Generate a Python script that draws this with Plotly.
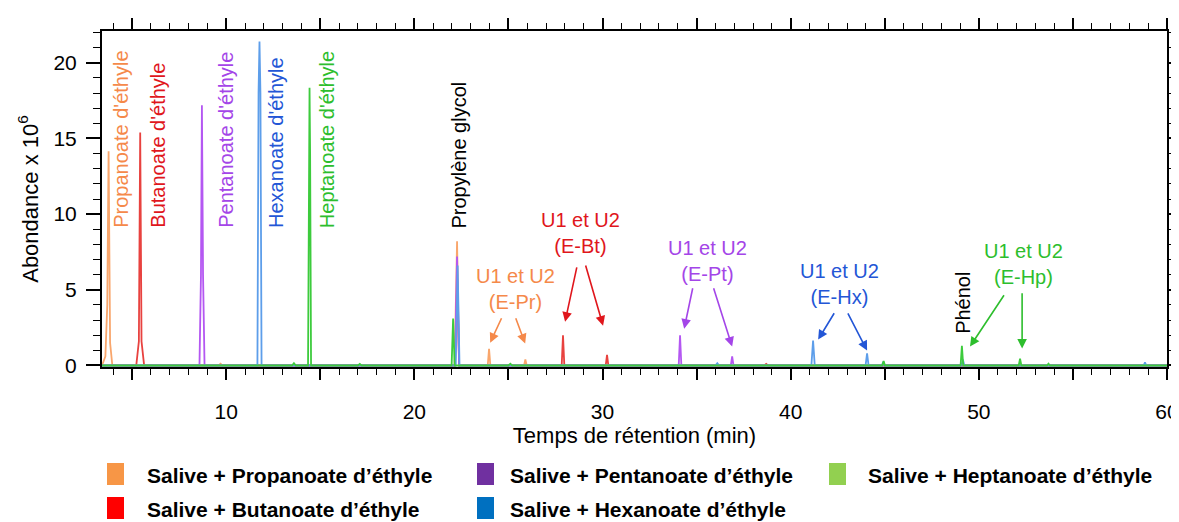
import plotly.graph_objects as go

# retention time (min) / abundance (x 1e6)
prop_t = [3.40, 3.58, 3.68, 3.75, 3.83, 3.95, 9.6, 9.7, 9.8, 22.14, 22.27, 22.38,
          23.90, 23.97, 24.04, 25.83, 25.90, 25.97, 60.0]
prop_y = [0.0, 0.6, 4.0, 14.16, 1.5, 0.0, 0.0, 0.12, 0.0, 0.0, 8.2, 0.0,
          0.0, 1.1, 0.0, 0.0, 0.4, 0.0, 0.0]

but_t = [3.40, 5.22, 5.36, 5.43, 5.50, 5.64, 22.16, 22.28, 22.38, 27.83, 27.90, 27.97,
         30.17, 30.24, 30.31, 38.6, 38.7, 38.8, 60.0]
but_y = [0.0, 0.0, 1.6, 15.4, 1.6, 0.0, 0.0, 5.7, 0.0, 0.0, 2.0, 0.0,
         0.0, 0.7, 0.0, 0.0, 0.1, 0.0, 0.0]

pent_t = [3.40, 8.58, 8.66, 8.71, 8.77, 8.85, 22.16, 22.27, 22.38, 34.05, 34.12, 34.19,
          36.82, 36.89, 36.96, 60.0]
pent_y = [0.0, 0.0, 6.0, 17.2, 6.0, 0.0, 0.0, 7.2, 0.0, 0.0, 2.0, 0.0,
          0.0, 0.6, 0.0, 0.0]

hex_t = [3.40, 11.66, 11.72, 11.77, 11.82, 11.88, 22.20, 22.30, 22.40, 36.0, 36.1, 36.2,
         41.10, 41.19, 41.28, 43.98, 44.06, 44.14, 44.85, 44.92, 44.99,
         49.07, 49.15, 49.23, 58.76, 58.83, 58.90, 60.0]
hex_y = [0.0, 0.0, 18.0, 21.4, 18.0, 0.0, 0.0, 6.6, 0.0, 0.0, 0.15, 0.0,
         0.0, 1.65, 0.0, 0.0, 0.8, 0.0, 0.0, 0.25, 0.0,
         0.0, 0.4, 0.0, 0.0, 0.2, 0.0, 0.0]

hept_t = [3.40, 13.5, 13.6, 13.7, 14.35, 14.40, 14.43, 14.46, 14.51, 17.0, 17.1, 17.2,
          21.98, 22.06, 22.14, 25.0, 25.1, 25.2, 44.87, 44.94, 45.01,
          49.03, 49.10, 49.17, 52.12, 52.19, 52.26, 53.62, 53.70, 53.78, 60.0]
hept_y = [0.0, 0.0, 0.15, 0.0, 0.0, 14.0, 18.35, 14.0, 0.0, 0.0, 0.1, 0.0,
          0.0, 3.1, 0.0, 0.0, 0.12, 0.0, 0.0, 0.3, 0.0,
          0.0, 1.3, 0.0, 0.0, 0.45, 0.0, 0.0, 0.12, 0.0, 0.0]

series_t = [prop_t, but_t, pent_t, hex_t, hept_t]
series_y = [prop_y, but_y, pent_y, hex_y, hept_y]
line_colors = ["#F9A66C", "#E8423F", "#B457F2", "#5D9EEA", "#3DCB3D"]
text_colors = ["#F5894A", "#E0161C", "#A445E8", "#2356D6", "#2DBE2D"]

peak_names = ["Propanoate d'éthyle", "Butanoate d'éthyle", "Pentanoate d'éthyle",
              "Hexanoate d'éthyle", "Heptanoate d'éthyle"]
peak_label_x = [4.37, 6.39, 9.95, 12.68, 15.34]
peak_label_y = [14.93, 14.54, 14.93, 14.74, 14.93]

u_labels = ["U1 et U2<br>(E-Pr)", "U1 et U2<br>(E-Bt)", "U1 et U2<br>(E-Pt)",
            "U1 et U2<br>(E-Hx)", "U1 et U2<br>(E-Hp)"]
u_label_x = [25.36, 28.81, 35.56, 42.62, 52.35]
u_label_y = [5.03, 8.78, 6.88, 5.36, 6.68]
# arrow tail (ax, ay) -> head (x, y), two per unknown pair
arrow_tail_x = [[24.67, 25.36], [28.65, 29.08], [34.81, 35.88], [42.36, 43.0], [51.39, 52.3]]
arrow_tail_y = [[3.22, 3.22], [6.58, 6.71], [5.2, 5.2], [3.55, 3.55], [4.74, 4.87]]
arrow_head_x = [[24.03, 25.89], [28.01, 30.03], [34.34, 36.89], [41.46, 44.06], [49.53, 52.3]]
arrow_head_y = [[1.51, 1.45], [2.89, 2.63], [2.43, 1.25], [1.71, 0.99], [1.25, 1.12]]

legend_names = ["Salive + Propanoate d’éthyle", "Salive + Butanoate d’éthyle",
                "Salive + Pentanoate d’éthyle", "Salive + Hexanoate d’éthyle",
                "Salive + Heptanoate d’éthyle"]
legend_colors = ["#F79646", "#FF0000", "#7030A0", "#0070C0", "#92D050"]
legend_col = [0, 0, 1, 1, 2]
legend_row = [0, 1, 0, 1, 0]

# page body has an 8px margin, so the figure is drawn 8px in from the corner
OFF = 8
W, H = 1179 - OFF, 522 - OFF
L, R, T, B = 102 - OFF, 12, 31 - OFF, 155
FONT = "Liberation Sans, Arial, sans-serif"

fig = go.Figure()
for t, y, c in zip(series_t, series_y, line_colors):
    fig.add_trace(go.Scatter(x=t, y=y, mode="lines", line=dict(color=c, width=1.8),
                             showlegend=False, hoverinfo="skip"))

ann = []
for name, x, y, c in zip(peak_names, peak_label_x, peak_label_y, text_colors):
    ann.append(dict(x=x, y=y, text=name, textangle=-90, showarrow=False,
                    font=dict(color=c, size=20)))
ann.append(dict(x=22.38, y=13.88, text="Propylène glycol", textangle=-90,
                showarrow=False, font=dict(color="black", size=20)))
ann.append(dict(x=49.16, y=4.14, text="Phénol", textangle=-90,
                showarrow=False, font=dict(color="black", size=20)))

for i, c in enumerate(text_colors):
    ann.append(dict(x=u_label_x[i], y=u_label_y[i], text=u_labels[i], showarrow=False,
                    font=dict(color=c, size=20)))
    for k in range(2):
        ann.append(dict(x=arrow_head_x[i][k], y=arrow_head_y[i][k],
                        ax=arrow_tail_x[i][k], ay=arrow_tail_y[i][k],
                        axref="x", ayref="y", text="", showarrow=True,
                        arrowhead=2, arrowsize=1.2, arrowwidth=1.6, arrowcolor=c))

# legend below the plot, page pixel positions converted to paper units
col_sq = [107, 477, 829]
col_tx = [145, 508, 866]
row_top = [463, 497]
pw, ph = W - L - R, H - T - B
x_left, y_bot = OFF + L, OFF + H - B


def px_x(px):
    return (px - x_left) / pw


def px_y(py):
    return (y_bot - py) / ph


shapes = []
for name, c, col, row in zip(legend_names, legend_colors, legend_col, legend_row):
    shapes.append(dict(type="rect", xref="paper", yref="paper",
                       x0=px_x(col_sq[col]), x1=px_x(col_sq[col] + 17),
                       y0=px_y(row_top[row] + 22), y1=px_y(row_top[row]),
                       fillcolor=c, line=dict(width=0)))
    ann.append(dict(xref="paper", yref="paper", x=px_x(col_tx[col]),
                    y=px_y(row_top[row] + 12), xanchor="left", yanchor="middle",
                    text="<b>" + name + "</b>", showarrow=False,
                    font=dict(family=FONT, size=21, color="black")))

fig.update_layout(
    width=W, height=H,
    margin=dict(l=L, r=R, t=T, b=B),
    paper_bgcolor="white", plot_bgcolor="white",
    font=dict(family=FONT, color="black", size=20),
    annotations=ann, shapes=shapes,
    xaxis=dict(
        range=[3.4, 60], tickvals=[5, 10, 15, 20, 25, 30, 35, 40, 45, 50, 55, 60],
        ticktext=["", "10", "", "20", "", "30", "", "40", "", "50", "", "60"],
        ticks="outside", ticklen=11, tickwidth=1.5, tickcolor="black",
        minor=dict(dtick=1, ticks="outside", ticklen=6, tickwidth=1.2, tickcolor="black"),
        showline=True, linecolor="black", linewidth=2, mirror="ticks",
        showgrid=False, zeroline=False, ticklabelstandoff=14, automargin=False,
        tickfont=dict(size=21),
        title=dict(text="Temps de rétention (min)", font=dict(size=22), standoff=4),
    ),
    xaxis2=dict(
        range=[3.4, 60], overlaying="x", anchor="y", side="bottom",
        tickvals=[10, 20, 30, 40, 50, 60], ticks="outside", ticklen=16, tickwidth=1.5,
        tickcolor="black", showticklabels=False, showline=False, mirror="ticks",
        showgrid=False, zeroline=False, automargin=False,
    ),
    yaxis=dict(
        range=[-0.1, 22.1], dtick=5, ticks="outside", ticklen=14, tickwidth=1.5,
        tickcolor="black",
        minor=dict(dtick=1, ticks="outside", ticklen=7, tickwidth=1.2, tickcolor="black"),
        showline=True, linecolor="black", linewidth=2, mirror="ticks",
        showgrid=False, zeroline=False, ticklabelstandoff=5, automargin=False,
        tickfont=dict(size=21),
        title=dict(text="Abondance x 10<sup>6</sup>", font=dict(size=22), standoff=9),
    ),
)

fig.write_html("out.html")
